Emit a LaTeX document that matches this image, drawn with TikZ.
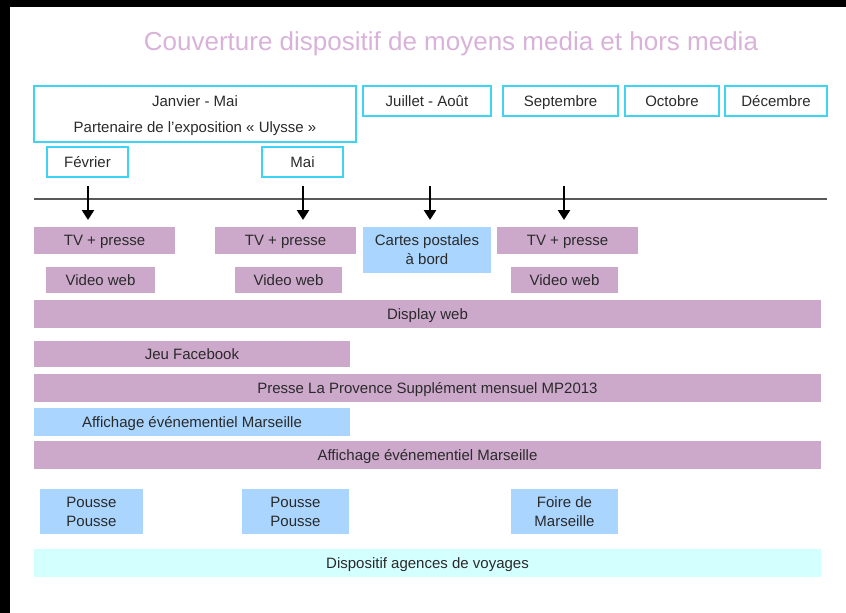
\documentclass[tikz,border=0pt]{standalone}
\usepackage{fontspec}
\setmainfont{Liberation Sans}
\usetikzlibrary{arrows.meta}
\definecolor{mauve}{HTML}{CCA9CB}
\definecolor{ciel}{HTML}{A9D5FE}
\definecolor{glace}{HTML}{D4FFFF}
\definecolor{cyanbord}{HTML}{3DD3F2}
\definecolor{titre}{HTML}{D9B2D9}
\definecolor{encre}{HTML}{2A2A2A}

\tikzstyle{bloc}=[rectangle,anchor=north west,inner sep=0pt,outer sep=0pt,text=encre,font=\fontsize{15}{19}\selectfont,align=center,text depth=0pt]
\tikzstyle{mois}=[bloc,draw=cyanbord,line width=1.4pt]
\tikzstyle{fleche}=[draw,line width=2.6pt,-{Triangle[width=12pt,length=10pt]},shorten >=7pt]
\tikzstyle{axe}=[draw,line width=1.1pt,color=black!65]

\begin{document}
\begin{tikzpicture}[x=1pt,y=1pt]
    \useasboundingbox (0,0) rectangle (846,-613);
    \fill[black] (0,0) rectangle (846,-7);
    \fill[black] (0,0) rectangle (10,-613);
    \node[font=\fontsize{26}{30}\selectfont,text=titre,text depth=0pt] (titre) at (451,-41) {Couverture dispositif de moyens media et hors media};
    % First the months on top
    \foreach \name/\x/\y/\w/\h/\txt in {janmai/34/86/322/56/{Janvier - Mai\\[7pt]Partenaire de l’exposition « Ulysse »},
        juillet/363/86/128/30/{Juillet - Août}, septembre/503/86/115/30/Septembre,
        octobre/625/86/94/30/Octobre, decembre/725/86/102/30/Décembre,
        fevrier/47/147/81/30/Février, mai/262/147/81/30/Mai}
        \node[mois,minimum width=\w,minimum height=\h] (\name) at (\x,-\y) {\txt};
    % Then the media blocks
    \foreach \name/\x/\y/\w/\h/\col/\txt in {tvA/34/227/141/27/mauve/{TV + presse},
        tvB/215/227/141/27/mauve/{TV + presse}, cartes/363/227/128/46/ciel/{Cartes postales\\à bord},
        tvC/497/227/141/27/mauve/{TV + presse}, webA/46/267/109/26/mauve/{Video web},
        webB/235/267/107/26/mauve/{Video web}, webC/511/267/107/26/mauve/{Video web},
        display/34/300/787/28/mauve/{Display web}, jeu/34/341/316/26/mauve/{Jeu Facebook},
        presse/34/374/787/28/mauve/{Presse La Provence Supplément mensuel MP2013},
        affA/34/408/316/28/ciel/{Affichage événementiel Marseille},
        affB/34/441/787/28/mauve/{Affichage événementiel Marseille},
        pousseA/40/489/103/45/ciel/{Pousse\\Pousse}, pousseB/242/489/107/45/ciel/{Pousse\\Pousse},
        foire/511/489/107/45/ciel/{Foire de\\Marseille},
        agences/34/549/787/28/glace/{Dispositif agences de voyages}}
        \node[bloc,fill=\col,minimum width=\w,minimum height=\h] (\name) at (\x,-\y) {\txt};
    % Timeline and arrows
    \coordinate (debut) at (34,-199);
    \coordinate (fin) at (827,-199);
    \path[axe] (debut) -- (fin);
    \foreach \name/\x/\dest in {fA/88/tvA, fB/303/tvB, fC/430/cartes, fD/564/tvC}
    {
        \coordinate (\name) at (\x,-186);
        \path[fleche] (\name) -- (\name |- \dest.north);
    }
\end{tikzpicture}
\end{document}
